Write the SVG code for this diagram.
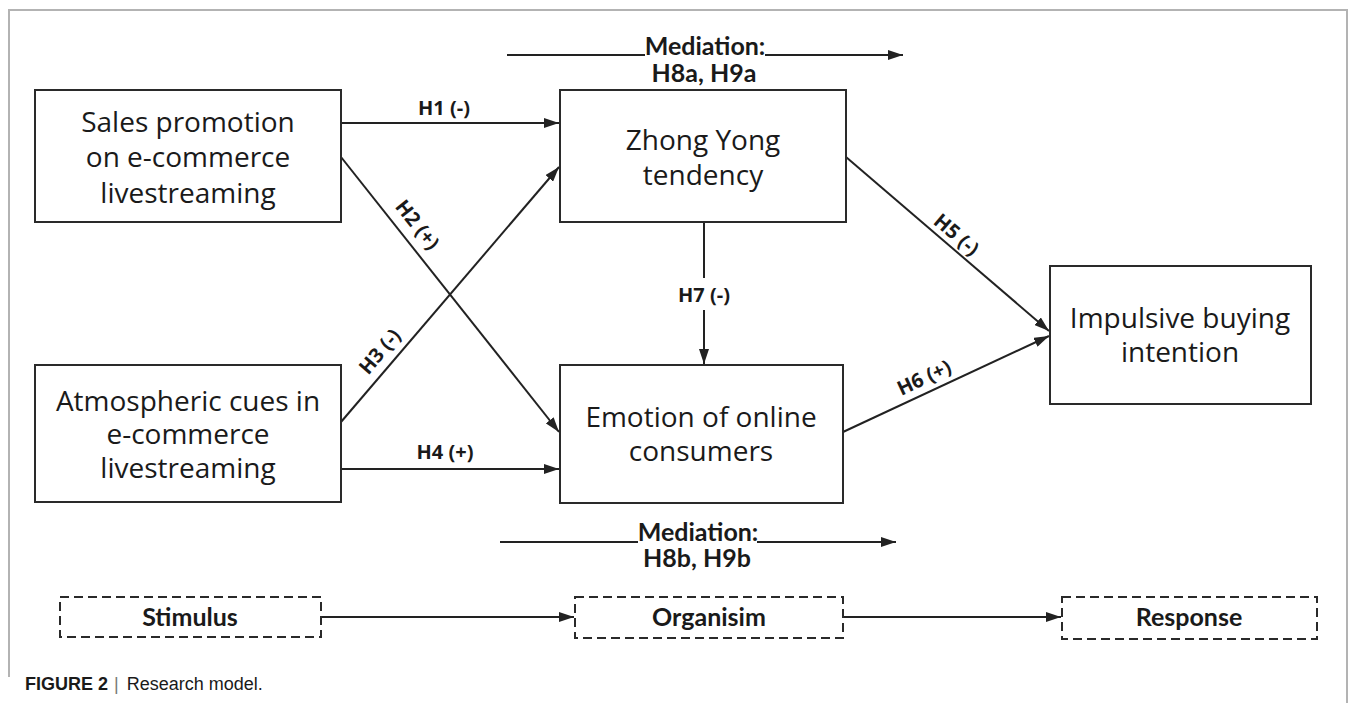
<svg xmlns="http://www.w3.org/2000/svg" width="1355" height="703" viewBox="0 0 1355 703">
<defs>
<marker id="ah" markerUnits="userSpaceOnUse" markerWidth="15" markerHeight="10" refX="15" refY="5" orient="auto">
<path d="M0,0 L15,5 L0,10 z" fill="#222"/>
</marker>
<style>
.box{fill:#fff;stroke:#2a2a2a;stroke-width:2}
.dbox{fill:#fff;stroke:#2a2a2a;stroke-width:2;stroke-dasharray:9 5}
.node{font-family:"Open Sans","Noto Sans",sans-serif;font-size:28px;fill:#1a1a1a;text-anchor:middle}
.lbl{font-family:"Open Sans","Noto Sans",sans-serif;font-size:20px;font-weight:bold;fill:#1a1a1a;text-anchor:middle}
.big{font-family:Lato,"Open Sans",sans-serif;font-size:25px;font-weight:bold;fill:#1a1a1a;text-anchor:middle}
.ln{stroke:#222;stroke-width:2;fill:none}
.arr{stroke:#222;stroke-width:2;fill:none;marker-end:url(#ah)}
</style>
</defs>
<rect width="1355" height="703" fill="#fff"/>
<path d="M9,677 V10 H1347 V703" fill="none" stroke="#b3b3b3" stroke-width="2"/>

<g id="connectors">
<line class="arr" x1="341" y1="123" x2="559" y2="123"/>
<line class="arr" x1="341" y1="157" x2="559" y2="432"/>
<line class="arr" x1="341" y1="422" x2="559" y2="167"/>
<line class="arr" x1="341" y1="469" x2="559" y2="469"/>
<line class="ln" x1="704" y1="222" x2="704" y2="278"/>
<line class="arr" x1="704" y1="310" x2="704" y2="364"/>
<line class="arr" x1="846" y1="157" x2="1049" y2="331"/>
<line class="arr" x1="843" y1="432" x2="1049" y2="336"/>
<line class="ln" x1="507" y1="55" x2="645" y2="55"/>
<line class="arr" x1="765" y1="55" x2="903" y2="55"/>
<line class="ln" x1="500" y1="542" x2="638" y2="542"/>
<line class="arr" x1="757" y1="542" x2="896" y2="542"/>
<line class="arr" x1="321" y1="617" x2="574" y2="617"/>
<line class="arr" x1="843" y1="617" x2="1061" y2="617"/>
<text class="lbl" x="444" y="115">H1 (-)</text>
<text class="lbl" transform="translate(412,229) rotate(51.7)">H2 (+)</text>
<text class="lbl" transform="translate(385,356) rotate(-49.6)">H3 (-)</text>
<text class="lbl" x="445" y="459">H4 (+)</text>
<text class="lbl" transform="translate(952,240) rotate(40.6)">H5 (-)</text>
<text class="lbl" transform="translate(927,384) rotate(-25.1)">H6 (+)</text>
<text class="lbl" x="704" y="302">H7 (-)</text>
<text class="big" x="705" y="55">Mediation:</text>
<text class="big" x="704" y="82">H8a, H9a</text>
<text class="big" x="698" y="541">Mediation:</text>
<text class="big" x="697" y="567">H8b, H9b</text>
</g>

<g id="sales">
<rect class="box" x="35" y="90" width="306" height="132"/>
<text class="node" x="188" y="132">Sales promotion</text>
<text class="node" x="188" y="167">on e-commerce</text>
<text class="node" x="188" y="203">livestreaming</text>
</g>
<g id="atmospheric">
<rect class="box" x="35" y="365" width="306" height="137"/>
<text class="node" x="188" y="411">Atmospheric cues in</text>
<text class="node" x="188" y="444">e-commerce</text>
<text class="node" x="188" y="478">livestreaming</text>
</g>
<g id="zhongyong">
<rect class="box" x="560" y="90" width="286" height="132"/>
<text class="node" x="703" y="150">Zhong Yong</text>
<text class="node" x="703" y="185">tendency</text>
</g>
<g id="emotion">
<rect class="box" x="560" y="365" width="283" height="138"/>
<text class="node" x="701" y="427">Emotion of online</text>
<text class="node" x="701" y="461">consumers</text>
</g>
<g id="impulsive">
<rect class="box" x="1050" y="266" width="261" height="138"/>
<text class="node" x="1180" y="328">Impulsive buying</text>
<text class="node" x="1180" y="362">intention</text>
</g>
<g id="stimulus">
<rect class="dbox" x="60" y="597" width="261" height="40"/>
<text class="big" x="190" y="626" font-size="24">Stimulus</text>
</g>
<g id="organisim">
<rect class="dbox" x="575" y="597" width="268" height="41"/>
<text class="big" x="709" y="626" font-size="24">Organisim</text>
</g>
<g id="response">
<rect class="dbox" x="1062" y="597" width="255" height="42"/>
<text class="big" x="1189" y="626" font-size="24">Response</text>
</g>
<g id="caption">
<text x="25" y="690" font-family="Liberation Sans, Arial, sans-serif" font-size="18" fill="#1a1a1a"><tspan font-weight="bold">FIGURE 2</tspan><tspan fill="#777" dx="6">|</tspan><tspan dx="8">Research model.</tspan></text>
</g>
</svg>
